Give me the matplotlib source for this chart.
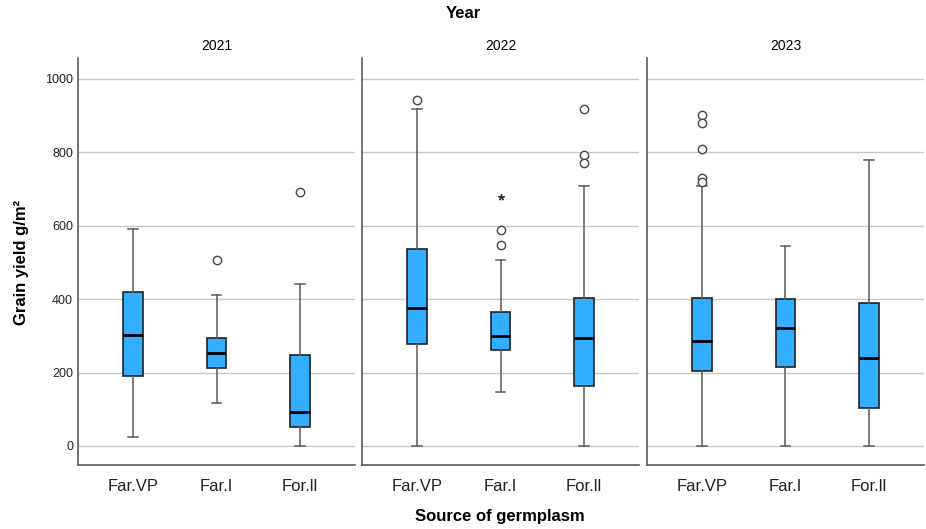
import matplotlib
matplotlib.use("Agg")
import matplotlib.pyplot as plt

plt.rcParams['font.family'] = ['Liberation Sans', 'DejaVu Sans']

years = ["2021", "2022", "2023"]
sources = ["Far.VP", "Far.I", "For.II"]
tick_labels = ["Far.VP", "Far.I", "For.ll"]

# box statistics per year, in order of sources
q1 = {"2021": [190, 213, 52], "2022": [277, 262, 163], "2023": [203, 214, 104]}
med = {"2021": [303, 254, 92], "2022": [375, 300, 294], "2023": [285, 321, 240]}
q3 = {"2021": [419, 295, 247], "2022": [536, 364, 402], "2023": [402, 400, 389]}
whislo = {"2021": [24, 118, 0], "2022": [0, 147, 0], "2023": [0, 0, 0]}
whishi = {"2021": [590, 410, 442], "2022": [918, 506, 708], "2023": [708, 546, 780]}
outliers = {
    "2021": [[], [506], [692]],
    "2022": [[943], [589, 548], [918, 793, 770]],
    "2023": [[902, 879, 809, 731, 720], [], []],
}
extremes = {"2021": [[], [], []], "2022": [[], [679], []], "2023": [[], [], []]}

box_color = "#33adff"
edge = "#222222"
grey = "#5a5a5a"

fig = plt.figure(figsize=(9.26, 5.29), dpi=100)
lefts = [78, 362, 647]
axes = []
for i, yr in enumerate(years):
    ax = fig.add_axes([lefts[i] / 926, 1 - 465 / 529, 277 / 926, (465 - 58) / 529])
    axes.append(ax)
    stats = []
    for j in range(3):
        stats.append(dict(med=med[yr][j], q1=q1[yr][j], q3=q3[yr][j],
                          whislo=whislo[yr][j], whishi=whishi[yr][j],
                          fliers=outliers[yr][j], label=tick_labels[j]))
    ax.bxp(stats, positions=[1, 2, 3], widths=0.24, patch_artist=True,
           showfliers=True, capwidths=0.12,
           boxprops=dict(facecolor=box_color, edgecolor=edge, linewidth=1.2),
           medianprops=dict(color="black", linewidth=2),
           whiskerprops=dict(color=grey, linewidth=1.1),
           capprops=dict(color=grey, linewidth=1.1),
           flierprops=dict(marker="o", markerfacecolor="white", markeredgecolor="#444444",
                           markersize=6, markeredgewidth=1.0))
    # extreme values drawn as stars
    for j in range(3):
        if extremes[yr][j]:
            ax.plot([j + 1] * len(extremes[yr][j]), extremes[yr][j], linestyle="none",
                    marker=(5, 2, 0), color="#333333", markersize=4.5, markeredgewidth=1.0)
    ax.set_xlim(1 / 3, 11 / 3)
    ax.set_ylim(-52, 1057)
    ax.set_yticks([0, 200, 400, 600, 800, 1000])
    ax.yaxis.grid(True, color="#c8c8c8", linewidth=1.0)
    ax.set_axisbelow(True)
    ax.tick_params(axis="both", length=0)
    ax.tick_params(axis="x", labelsize=12, pad=10, colors="#222222")
    ax.tick_params(axis="y", labelsize=9, colors="#222222")
    for s in ["top", "right"]:
        ax.spines[s].set_visible(False)
    for s in ["left", "bottom"]:
        ax.spines[s].set_color(grey)
        ax.spines[s].set_linewidth(1.2)
    if i > 0:
        ax.tick_params(axis="y", labelleft=False)
    ax.set_title(yr, fontsize=10, pad=6)

fig.text(463 / 926, 1 - 13 / 529, "Year", ha="center", va="center", fontsize=12, fontweight="bold")
fig.text(500 / 926, 1 - 517 / 529, "Source of germplasm", ha="center", va="center", fontsize=12, fontweight="bold")
fig.text(22 / 926, 1 - 262 / 529, "Grain yield g/m²", ha="center", va="center", rotation=90,
         fontsize=12, fontweight="bold")

fig.savefig("out.png", dpi=100)
